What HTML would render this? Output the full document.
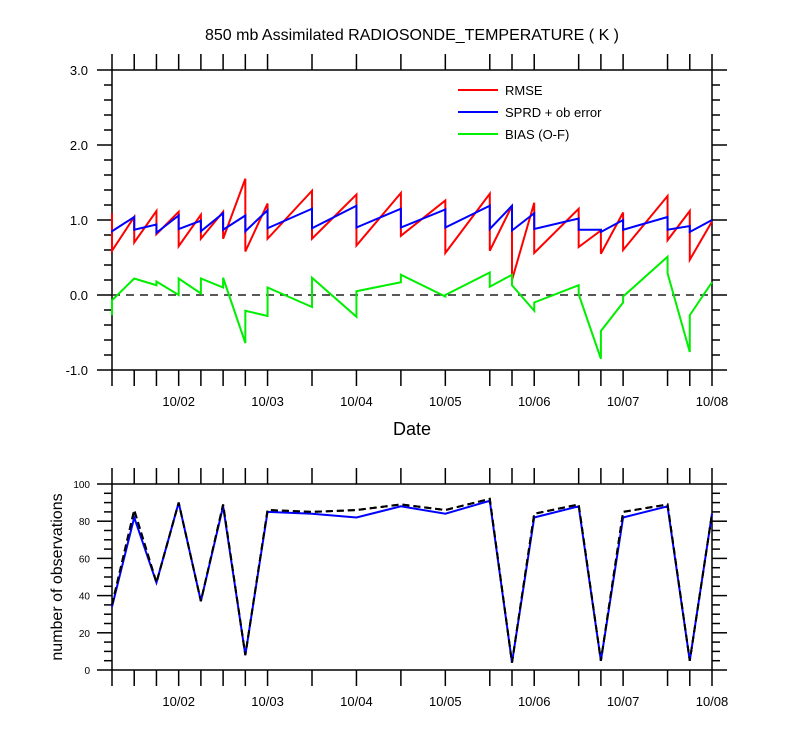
<!DOCTYPE html>
<html><head><meta charset="utf-8"><style>
body{margin:0;background:#fff;}
svg text{font-family:"Liberation Sans",Arial,sans-serif;fill:#000;}
</style></head><body>
<svg id="chart" width="800" height="750" xmlns="http://www.w3.org/2000/svg">
<text x="412" y="40" font-size="16" text-anchor="middle">850 mb Assimilated RADIOSONDE_TEMPERATURE ( K )</text>
<g id="topPanel"></g>
<g id="botPanel"></g>
<text x="412" y="435" font-size="18" text-anchor="middle">Date</text>
<text transform="translate(62,577) rotate(-90)" font-size="16" text-anchor="middle">number of observations</text>
</svg>
<script>
// time indices in 6-hour steps from 10/01 06Z
const times=[0,1,2,3,4,5,6,7,9,11,13,15,17,18,19,21,22,23,25,26,27];
const rmsePrior=[1.09,1.04,1.12,1.11,1.07,1.11,1.55,1.22,1.39,1.34,1.36,1.26,1.35,1.19,1.23,1.15,0.86,1.10,1.32,1.12,0.98];
const rmsePost =[0.59,0.70,0.81,0.65,0.75,0.75,0.58,0.75,0.75,0.66,0.79,0.56,0.59,0.20,0.56,0.64,0.55,0.60,0.73,0.47,0.98];
const sprdPrior=[0.86,1.04,0.94,1.06,0.99,1.09,1.06,1.13,1.15,1.19,1.15,1.14,1.19,1.19,1.09,1.02,0.87,1.00,1.04,0.92,1.00];
const sprdPost =[0.85,0.87,0.83,0.88,0.85,0.87,0.85,0.89,0.89,0.90,0.90,0.90,0.88,0.86,0.88,0.87,0.84,0.87,0.87,0.84,1.00];
const biasPrior=[-0.27,0.22,0.13,0.00,0.02,0.10,-0.64,-0.28,-0.16,-0.29,0.17,-0.02,0.30,0.27,-0.21,0.13,-0.85,-0.10,0.51,-0.76,0.17];
const biasPost =[-0.07,0.22,0.18,0.22,0.22,0.23,-0.21,0.10,0.23,0.05,0.27,0.00,0.11,0.13,-0.10,0.01,-0.48,-0.02,0.29,-0.27,0.17];
const obsPoss=[35,86,47,90,37,89,8,86,85,86,89,86,92,4,84,89,5,85,89,5,84];
const obsUsed=[34,82,47,90,37,88,8,85,84,82,88,84,91,4,82,88,5,82,88,5,84];
const dayLabels=["10/02","10/03","10/04","10/05","10/06","10/07","10/08"];
const dayIdx=[3,7,11,15,19,23,27];
const topTicks=[3.0,2.0,1.0,0.0,-1.0];
const botTicks=[0,20,40,60,80,100];

const NS="http://www.w3.org/2000/svg";
const X0=112,X1=712,NT=27;
const xs=i=>X0+(X1-X0)*i/NT;
const yT=v=>295-v*75;
const yB=v=>670-v*1.86;
function mk(p,tag,at){const e=document.createElementNS(NS,tag);for(const k in at)e.setAttribute(k,at[k]);p.appendChild(e);return e;}
const gTop=document.getElementById('topPanel'),gBot=document.getElementById('botPanel');

function frame(g,yt,yb,name){
  const r=mk(g,'rect',{x:X0,y:yt,width:X1-X0,height:yb-yt,fill:'none',stroke:'#000','stroke-width':1.5});
  
  
  times.forEach(t=>{
    mk(g,'line',{x1:xs(t),x2:xs(t),y1:yt-16,y2:yt,stroke:'#000','stroke-width':1.5});
    mk(g,'line',{x1:xs(t),x2:xs(t),y1:yb,y2:yb+16,stroke:'#000','stroke-width':1.5});
  });
  dayLabels.forEach((d,i)=>{
    const t=mk(g,'text',{x:xs(dayIdx[i]),y:yb+36,'font-size':13,'text-anchor':'middle'});
    t.textContent=d;
    
    
  });
}
function series(g,p1,p2,y,color,name,dash){
  let pts=[];
  times.forEach((t,i)=>{pts.push(xs(t)+','+y(p1[i]));if(p2)pts.push(xs(t)+','+y(p2[i]));});
  const ln=mk(g,'polyline',{points:pts.join(' '),fill:'none',stroke:color,'stroke-width':2,'stroke-dasharray':dash||'none'});
  
  
}
// top panel
frame(gTop,70,370,'top');
for(let v=-1;v<=3.001;v+=0.2){
  const major=Math.abs(v-Math.round(v))<1e-6, L=major?15:8;
  mk(gTop,'line',{x1:X0-L,x2:X0,y1:yT(v),y2:yT(v),stroke:'#000','stroke-width':1.5});
  mk(gTop,'line',{x1:X1,x2:X1+L,y1:yT(v),y2:yT(v),stroke:'#000','stroke-width':1.5});
}
topTicks.forEach(v=>{
  const t=mk(gTop,'text',{x:88,y:yT(v)+5,'font-size':13,'text-anchor':'end'});
  t.textContent=v.toFixed(1);
  
  
});
mk(gTop,'line',{x1:X0,x2:X1,y1:yT(0),y2:yT(0),stroke:'#222','stroke-width':1.5,'stroke-dasharray':'8,6'});
series(gTop,rmsePrior,rmsePost,yT,'#ff0000','rmse-line');
series(gTop,sprdPrior,sprdPost,yT,'#0000ff','sprd-line');
series(gTop,biasPrior,biasPost,yT,'#00ee00','bias-line');
[['RMSE','#ff0000',90],['SPRD + ob error','#0000ff',112],['BIAS (O-F)','#00ee00',134]].forEach(([n,c,y])=>{
  const g=mk(gTop,'g',{});
  
  
  mk(g,'line',{x1:458,x2:498,y1:y,y2:y,stroke:c,'stroke-width':2});
  const t=mk(g,'text',{x:505,y:y+5,'font-size':13});t.textContent=n;
});
// bottom panel
frame(gBot,484,670,'bottom');
for(let v=0;v<=100;v+=5){
  const major=v%20===0,L=major?15:8;
  mk(gBot,'line',{x1:X0-L,x2:X0,y1:yB(v),y2:yB(v),stroke:'#000','stroke-width':1.5});
  mk(gBot,'line',{x1:X1,x2:X1+L,y1:yB(v),y2:yB(v),stroke:'#000','stroke-width':1.5});
}
botTicks.forEach(v=>{
  const t=mk(gBot,'text',{x:90,y:yB(v)+4,'font-size':10,'text-anchor':'end'});
  t.textContent=v;
  
  
});
series(gBot,obsPoss,null,yB,'#000','obs-possible-line','7,4');
series(gBot,obsUsed,null,yB,'#0000ff','obs-used-line');
series(gBot,obsPoss,null,yB,'#000','obs-possible-line-overlay','7,4');
</script>
</body></html>
